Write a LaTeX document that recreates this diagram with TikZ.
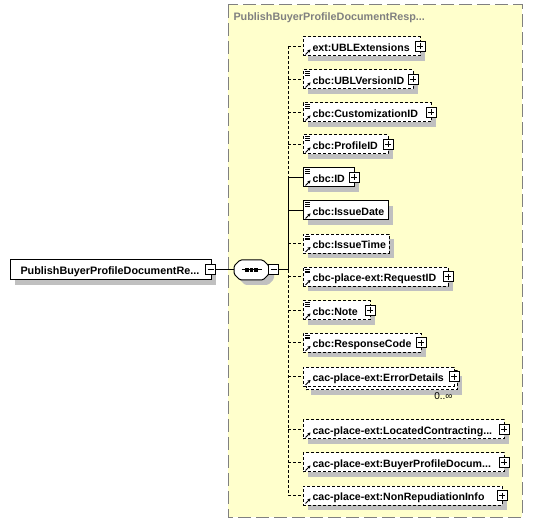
\documentclass[tikz,border=0pt]{standalone}
\usepackage{fontspec}
\setmainfont{Liberation Sans}
\usetikzlibrary{shadows,arrows.meta}
\definecolor{cyel}{HTML}{FFFFCC}
\definecolor{cbord}{HTML}{808080}
\definecolor{cshad}{HTML}{C0C0C0}
\newcommand{\refmark}[1]{\draw[solid,line width=1pt,-{Stealth[length=3pt,width=3.5pt]}] ([xshift=2.5pt,yshift=1.5pt]#1.south west) -- ++(5pt,5pt);}
\newcommand{\simplemark}[1]{\foreach \yo in {1.8,3.6,5.4}{\draw[solid,line width=0.8pt] ([xshift=2.2pt,yshift=-\yo pt]#1.north west) -- ++(5pt,0pt);}}
\tikzset{
  shad/.style={drop shadow={shadow xshift=5pt,shadow yshift=-5pt,fill=cshad,opacity=1}},
  elembase/.style={draw=black, fill=white, minimum height=19pt, inner sep=0pt, outer sep=0pt, anchor=west},
  elem/.style={elembase, shad},
  optl/.style={dash pattern=on 3pt off 2pt},
  lbl/.style={font=\bfseries\fontsize{10.6pt}{13pt}\selectfont, anchor=base west, inner sep=0pt},
  xbox/.style={draw=black, fill=white, solid, minimum size=10pt, inner sep=0pt},
  pbox/.style={xbox, path picture={\draw[solid,line width=1pt] ([xshift=2pt]path picture bounding box.west) -- ([xshift=-2pt]path picture bounding box.east) ([yshift=-2pt]path picture bounding box.north) -- ([yshift=2pt]path picture bounding box.south);}},
  mbox/.style={xbox, path picture={\draw[solid,line width=1pt] ([xshift=2pt]path picture bounding box.west) -- ([xshift=-2pt]path picture bounding box.east);}},
  conn/.style={line width=1pt},
  seqshape/.style={rounded corners=1.5pt},
}
\begin{document}
\begin{tikzpicture}[x=1pt,y=-1pt,line width=1pt]
\useasboundingbox (0,0) rectangle (533,526);
% container
\draw[cbord, fill=cyel, dash pattern=on 13pt off 5pt] (228,5) rectangle (522,517);
\node[lbl, text=cbord, font=\bfseries\fontsize{10.8pt}{13pt}\selectfont] (title) at (233,21) {PublishBuyerProfileDocumentResp...};
% trunk coordinates
\coordinate (t1) at (288,46.5);
\coordinate (t2) at (288,79.5);
\coordinate (t3) at (288,112.5);
\coordinate (t4) at (288,144.5);
\coordinate (t5) at (288,177.5);
\coordinate (t6) at (288,210.5);
\coordinate (t7) at (288,244);
\coordinate (t8) at (288,277);
\coordinate (t9) at (288,310.5);
\coordinate (t10) at (288,343);
\coordinate (t11) at (288,377);
\coordinate (t12) at (288,429.5);
\coordinate (t13) at (288,462.5);
\coordinate (t14) at (288,495.5);
\coordinate (tj) at (288,270);
% root
\node[elem, minimum width=201pt, minimum height=20pt] (root) at (10,270) {};
\node[lbl, font=\bfseries\fontsize{10.8pt}{13pt}\selectfont] (roott) at (20,275) {PublishBuyerProfileDocumentRe...};
\node[mbox] (rootm) at (210.5,270) {};
% sequence
\node[minimum width=35pt, minimum height=20pt, inner sep=0pt, outer sep=0pt] (seq) at (251.5,270) {};
\fill[cshad, seqshape] (245,265) -- (268,265) -- (274,271) -- (274,279) -- (268,285) -- (245,285) -- (239,279) -- (239,271) -- cycle;
\draw[fill=white, seqshape] (240,260) -- (263,260) -- (269,266) -- (269,274) -- (263,280) -- (240,280) -- (234,274) -- (234,266) -- cycle;
\draw[line width=1pt] ([xshift=-10pt]seq.center) -- ([xshift=10pt]seq.center);
\foreach \dx in {-4.5,0,4.5}{\fill ([xshift=\dx pt]seq.center) +(-1.6pt,-1.6pt) rectangle +(1.6pt,1.6pt);}
\node[mbox] (seqm) at (273.5,270) {};
\draw[conn] (rootm.east) -- (seq.west);
\draw[conn] (seqm.east) -- (tj);
% trunk
\draw[conn, optl] (t1) -- (t5);
\draw[conn] (t5) -- (tj);
\draw[conn, optl] (tj) -- (t14);
% element boxes
\node[elem, optl, minimum width=117pt] (e1) at (303,46.5) {};
\node[elem, optl, minimum width=110pt] (e2) at (303,79.5) {};
\node[elem, optl, minimum width=128pt] (e3) at (303,112.5) {};
\node[elem, optl, minimum width=85pt] (e4) at (303,144.5) {};
\node[elem, minimum width=51pt] (e5) at (303,177.5) {};
\node[elem, minimum width=85pt] (e6) at (303,210.5) {};
\node[elem, optl, minimum width=86pt] (e7) at (303,244) {};
\node[elem, optl, minimum width=145pt] (e8) at (303,277) {};
\node[elem, optl, minimum width=67pt] (e9) at (303,310.5) {};
\node[elem, optl, minimum width=118pt] (e10) at (303,343) {};
\node[elem, optl, minimum width=151pt] (e11b) at (306,380.5) {};
\node[elembase, optl, minimum width=151pt] (e11) at (303,377) {};
\node[elem, optl, minimum width=201pt] (e12) at (303,429.5) {};
\node[elem, optl, minimum width=201pt] (e13) at (303,462.5) {};
\node[elem, optl, minimum width=199pt] (e14) at (303,495.5) {};
% connectors
\draw[conn, optl] (t1) -- (e1.west);
\draw[conn, optl] (t2) -- (e2.west);
\draw[conn, optl] (t3) -- (e3.west);
\draw[conn, optl] (t4) -- (e4.west);
\draw[conn] (t5) -- (e5.west);
\draw[conn] (t6) -- (e6.west);
\draw[conn, optl] (t7) -- (e7.west);
\draw[conn, optl] (t8) -- (e8.west);
\draw[conn, optl] (t9) -- (e9.west);
\draw[conn, optl] (t10) -- (e10.west);
\draw[conn, optl] (t11) -- (e11.west);
\draw[conn, optl] (t12) -- (e12.west);
\draw[conn, optl] (t13) -- (e13.west);
\draw[conn, optl] (t14) -- (e14.west);
% labels
\node[lbl] (l1) at (312,51.5) {ext:UBLExtensions};
\node[lbl] (l2) at (312,84.5) {cbc:UBLVersionID};
\node[lbl] (l3) at (312,117.5) {cbc:CustomizationID};
\node[lbl] (l4) at (312,149.5) {cbc:ProfileID};
\node[lbl] (l5) at (312,182.5) {cbc:ID};
\node[lbl] (l6) at (312,215.5) {cbc:IssueDate};
\node[lbl] (l7) at (312,249) {cbc:IssueTime};
\node[lbl] (l8) at (312,282) {cbc-place-ext:RequestID};
\node[lbl] (l9) at (312,315.5) {cbc:Note};
\node[lbl] (l10) at (312,348) {cbc:ResponseCode};
\node[lbl] (l11) at (312,382) {cac-place-ext:ErrorDetails};
\node[lbl] (l12) at (312,434.5) {cac-place-ext:LocatedContracting...};
\node[lbl] (l13) at (312,467.5) {cac-place-ext:BuyerProfileDocum...};
\node[lbl] (l14) at (312,500.5) {cac-place-ext:NonRepudiationInfo};
\node[font=\fontsize{10}{12}\selectfont, anchor=base east, inner sep=0pt] (card) at (453,400) {0..∞};
% icons
\foreach \n in {e1,e2,e3,e4,e5,e6,e7,e8,e9,e10,e11,e12,e13,e14}{\refmark{\n}}
\foreach \n in {e2,e3,e4,e5,e6,e7,e8,e9,e10}{\simplemark{\n}}
% expand boxes
\foreach \n in {e1,e2,e3,e4,e5,e8,e9,e10,e11,e12,e13,e14}{\node[pbox] at (\n.east) {};}
\end{tikzpicture}
\end{document}
